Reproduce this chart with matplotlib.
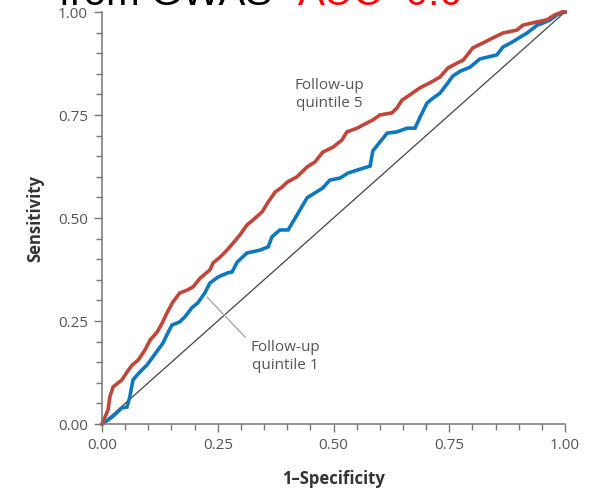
import matplotlib.pyplot as plt
from matplotlib.ticker import MultipleLocator

# ROC curve: follow-up quintile 5 (red)
fpr_q5 = [0.0, 0.013, 0.017, 0.024, 0.043, 0.054, 0.065, 0.078, 0.093, 0.104,
          0.119, 0.130, 0.140, 0.153, 0.168, 0.184, 0.197, 0.212, 0.233, 0.240,
          0.255, 0.270, 0.283, 0.298, 0.313, 0.326, 0.346, 0.359, 0.374, 0.389,
          0.400, 0.421, 0.443, 0.460, 0.477, 0.499, 0.518, 0.529, 0.551, 0.564,
          0.585, 0.600, 0.626, 0.637, 0.648, 0.665, 0.687, 0.708, 0.730, 0.747,
          0.767, 0.780, 0.801, 0.823, 0.844, 0.866, 0.896, 0.909, 0.940, 0.961,
          0.978, 0.994, 1.0]
tpr_q5 = [0.0, 0.034, 0.066, 0.090, 0.107, 0.126, 0.143, 0.155, 0.180, 0.204,
          0.223, 0.245, 0.269, 0.296, 0.318, 0.325, 0.333, 0.354, 0.374, 0.391,
          0.405, 0.422, 0.439, 0.459, 0.483, 0.495, 0.515, 0.539, 0.563, 0.575,
          0.587, 0.600, 0.624, 0.636, 0.660, 0.672, 0.689, 0.709, 0.718, 0.726,
          0.738, 0.750, 0.755, 0.767, 0.786, 0.799, 0.816, 0.828, 0.842, 0.864,
          0.876, 0.883, 0.913, 0.925, 0.937, 0.949, 0.956, 0.968, 0.976, 0.981,
          0.993, 1.0, 1.0]

# follow-up quintile 1 (blue)
fpr_q1 = [0.0, 0.022, 0.043, 0.054, 0.060, 0.067, 0.076, 0.086, 0.097, 0.110,
          0.121, 0.132, 0.140, 0.151, 0.168, 0.179, 0.194, 0.207, 0.222, 0.233,
          0.251, 0.272, 0.281, 0.292, 0.313, 0.341, 0.359, 0.367, 0.384, 0.402,
          0.421, 0.443, 0.460, 0.477, 0.492, 0.514, 0.531, 0.553, 0.579, 0.585,
          0.600, 0.616, 0.637, 0.659, 0.676, 0.687, 0.702, 0.715, 0.730, 0.745,
          0.758, 0.775, 0.795, 0.816, 0.853, 0.866, 0.886, 0.903, 0.918, 0.940,
          0.952, 0.968, 0.983, 0.996, 1.0]
tpr_q1 = [0.0, 0.017, 0.039, 0.041, 0.066, 0.107, 0.119, 0.131, 0.143, 0.163,
          0.180, 0.197, 0.216, 0.240, 0.248, 0.260, 0.282, 0.294, 0.318, 0.342,
          0.357, 0.367, 0.369, 0.393, 0.415, 0.422, 0.430, 0.454, 0.471, 0.471,
          0.507, 0.549, 0.561, 0.573, 0.592, 0.597, 0.609, 0.617, 0.626, 0.663,
          0.684, 0.706, 0.709, 0.718, 0.718, 0.745, 0.779, 0.791, 0.803, 0.825,
          0.845, 0.857, 0.866, 0.886, 0.896, 0.915, 0.927, 0.939, 0.949, 0.968,
          0.973, 0.981, 0.993, 1.0, 1.0]

ticks = [0.0, 0.25, 0.5, 0.75, 1.0]
tick_labels = ["0.00", "0.25", "0.50", "0.75", "1.00"]

red = "#c0463a"
blue = "#0f78bd"
grey = "#555555"

plt.rcParams['font.family'] = ['Open Sans', 'DejaVu Sans']

fig = plt.figure(figsize=(5.93, 4.90), dpi=100)
ax = fig.add_axes([102 / 593, 66 / 490, 463 / 593, 412 / 490])

ax.plot([0, 1], [0, 1], color="#444444", lw=0.9, clip_on=False)
ax.plot(fpr_q1, tpr_q1, color=blue, lw=2.6, clip_on=False, solid_joinstyle='miter')
ax.plot(fpr_q5, tpr_q5, color=red, lw=2.6, clip_on=False, solid_joinstyle='miter')

ax.set_xlim(0, 1)
ax.set_ylim(0, 1)
ax.set_xticks(ticks)
ax.set_xticklabels(tick_labels)
ax.set_yticks(ticks)
ax.set_yticklabels(tick_labels)
ax.xaxis.set_minor_locator(MultipleLocator(0.05))
ax.yaxis.set_minor_locator(MultipleLocator(0.05))
ax.tick_params(which='major', length=6, width=1.0, color="#777777",
               labelsize=11, labelcolor=grey, pad=4)
ax.tick_params(which='minor', length=4.5, width=1.0, color="#777777")

for side in ['top', 'right']:
    ax.spines[side].set_visible(False)
for side in ['left', 'bottom']:
    ax.spines[side].set_color("#777777")
    ax.spines[side].set_linewidth(1.1)

ax.set_xlabel("1\u2013Specificity", fontsize=12, fontweight='bold', color="#333333", labelpad=12)
ax.set_ylabel("Sensitivity", fontsize=12, fontweight='bold', color="#333333", labelpad=10)

ax.text(0.49, 0.80, "Follow-up\nquintile 5", ha='center', va='center',
        fontsize=11, color=grey, linespacing=1.25)
ax.text(0.395, 0.163, "Follow-up\nquintile 1", ha='center', va='center',
        fontsize=11, color=grey, linespacing=1.25)
ax.plot([0.227, 0.309], [0.308, 0.211], color="#aaaaaa", lw=1.0)

# clipped headline at the top of the slide
fig.text(59 / 593, 1 - 5 / 490, "from GWAS", fontsize=29, color="black",
         family="Liberation Sans", va='baseline', ha='left')
fig.text(298 / 593, 1 - 5 / 490, "AUC=0.6", fontsize=29, color="red",
         family="Liberation Sans", va='baseline', ha='left')

fig.savefig("out.png", dpi=100)
